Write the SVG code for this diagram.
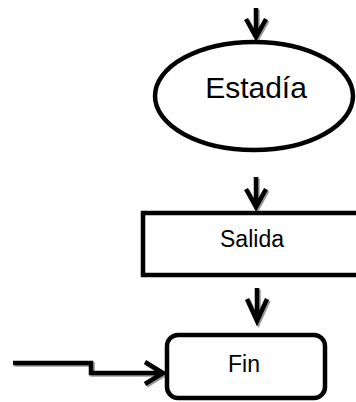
<svg xmlns="http://www.w3.org/2000/svg" xmlns:xlink="http://www.w3.org/1999/xlink" width="356" height="402" viewBox="0 0 356 402">
<style>
.node{fill:#fff;stroke:#000;stroke-width:4.5}
.lbl{font-family:"Liberation Sans",Arial,sans-serif;fill:#000;text-anchor:middle}
.conn{fill:none;stroke:#000;stroke-width:4.5;stroke-linejoin:miter}
.shadow{fill:none;stroke:#9a9a9a;stroke-width:4.5}
</style>
<defs>
<path id="c1" d="M256,8 V37 M246,19 L256,37 L266,19"/>
<path id="c2" d="M256,177 V207 M246,189 L256,207 L266,189"/>
<path id="c3" d="M257,288 V321 M247,299 L257,321 L267,299"/>
<path id="c4" d="M13,363 H91 V373 H163 M145,362 L163,373 L145,384"/>
</defs>
<g id="connectors">
<g transform="translate(1.5,1.5)" class="shadow">
<use xlink:href="#c1"/><use xlink:href="#c2"/><use xlink:href="#c3"/><use xlink:href="#c4"/>
</g>
<g class="conn">
<use xlink:href="#c1"/><use xlink:href="#c2"/><use xlink:href="#c3"/><use xlink:href="#c4"/>
</g>
</g>
<g id="estadia">
<ellipse class="node" cx="254" cy="96" rx="99" ry="54"/>
<text class="lbl" x="256" y="98" font-size="30">Estadía</text>
</g>
<g id="salida">
<rect class="node" x="143" y="213" width="230" height="62"/>
<text class="lbl" x="252" y="247" font-size="23">Salida</text>
</g>
<g id="fin">
<rect class="node" x="167" y="335" width="158" height="63" rx="11" ry="11"/>
<text class="lbl" x="244" y="372" font-size="23">Fin</text>
</g>
</svg>
